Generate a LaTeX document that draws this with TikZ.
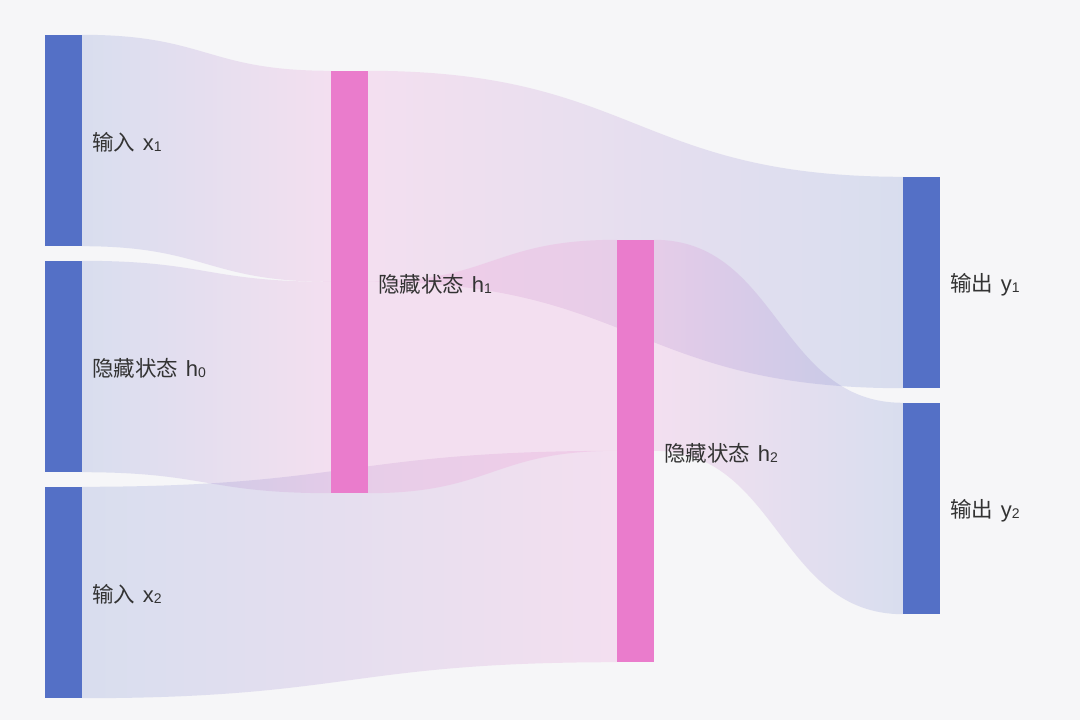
\documentclass[tikz,border=0pt]{standalone}
\usepackage{fontspec}
\newfontfamily\cjk{Noto Sans CJK SC}
\newfontfamily\latn{Liberation Sans}
\usetikzlibrary{positioning,calc,backgrounds}

\definecolor{barblue}{HTML}{5470C6}
\definecolor{barpink}{HTML}{EA7CCC}
\definecolor{paper}{HTML}{F6F6F8}
\definecolor{labelgray}{HTML}{333333}

\tikzstyle{inbar}=[fill=barblue,rectangle,minimum width=37pt,minimum height=211pt,inner sep=0pt]
\tikzstyle{hidbar}=[fill=barpink,rectangle,minimum width=37pt,minimum height=422pt,inner sep=0pt]
\tikzstyle{outbar}=[inbar]
\tikzstyle{tag}=[inner sep=0pt,yshift=-2pt,text=labelgray,font=\cjk\fontsize{21.5}{21.5}\selectfont]
\tikzstyle{band}=[fill opacity=0.18]

% label text: chinese word, latin letter, index
\newcommand{\tagtext}[3]{#1\hspace{0.35em}{\latn\fontsize{22}{22}\selectfont #2}\raisebox{-1pt}{\latn\fontsize{14}{14}\selectfont #3}}

% #1,#2 source top/bottom, #3,#4 target top/bottom, #5,#6 colours
\newcommand{\sankeyflow}[6]{%
  \shade[band,left color=#5,right color=#6] let \p1=(#1),\p2=(#2),\p3=(#3),\p4=(#4),\n1={0.5*(\x1+\x3)} in
    (\p1) .. controls (\n1,\y1) and (\n1,\y3) .. (\p3) -- (\p4)
    .. controls (\n1,\y4) and (\n1,\y2) .. (\p2) -- cycle;}

\begin{document}
\begin{tikzpicture}[x=1pt,y=-1pt]
  \useasboundingbox (0,0) rectangle (1080,720);
  % bars
  \node [inbar] (x1) at (63.5,140.5) {};
  \node [inbar] (h0) at (63.5,366.5) {};
  \node [inbar] (x2) at (63.5,592.5) {};
  \node [hidbar] (h1) at (349.5,282) {};
  \node [hidbar] (h2) at (635.5,451) {};
  \node [outbar] (y1) at (921.5,282.5) {};
  \node [outbar] (y2) at (921.5,508.5) {};

  \begin{scope}[on background layer]
    \fill [paper] (0,0) rectangle (1080,720);
    \sankeyflow{x1.north east}{x1.south east}{h1.north west}{$(h1.north west)+(0,211)$}{barblue}{barpink}
    \sankeyflow{h0.north east}{h0.south east}{$(h1.north west)+(0,211)$}{h1.south west}{barblue}{barpink}
    \sankeyflow{x2.north east}{x2.south east}{$(h2.north west)+(0,211)$}{h2.south west}{barblue}{barpink}
    \sankeyflow{h1.north east}{$(h1.north east)+(0,211)$}{y1.north west}{y1.south west}{barpink}{barblue}
    \sankeyflow{$(h1.north east)+(0,211)$}{h1.south east}{h2.north west}{$(h2.north west)+(0,211)$}{barpink}{barpink}
    \sankeyflow{h2.north east}{$(h2.north east)+(0,211)$}{y2.north west}{y2.south west}{barpink}{barblue}
  \end{scope}

  % labels
  \node [tag,right=10pt of x1] (lx1) {\tagtext{输入}{x}{1}};
  \node [tag,right=10pt of h0] (lh0) {\tagtext{隐藏状态}{h}{0}};
  \node [tag,right=10pt of x2] (lx2) {\tagtext{输入}{x}{2}};
  \node [tag,right=10pt of h1] (lh1) {\tagtext{隐藏状态}{h}{1}};
  \node [tag,right=10pt of h2] (lh2) {\tagtext{隐藏状态}{h}{2}};
  \node [tag,right=10pt of y1] (ly1) {\tagtext{输出}{y}{1}};
  \node [tag,right=10pt of y2] (ly2) {\tagtext{输出}{y}{2}};
\end{tikzpicture}
\end{document}
